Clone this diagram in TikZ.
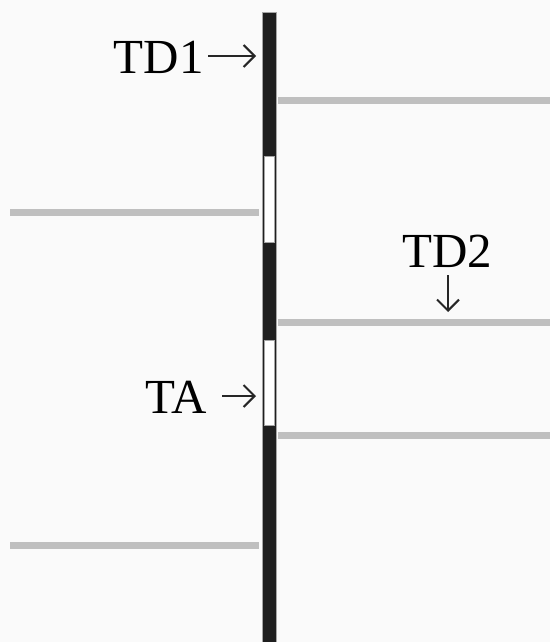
\documentclass[tikz,border=0pt]{standalone}
\usepackage{fontspec}
\setmainfont{Liberation Serif}
\usetikzlibrary{arrows.meta}

\begin{document}
\begin{tikzpicture}[x=1pt, y=-1pt,
	lbl/.style={inner sep=0pt, font=\fontsize{49}{52}\selectfont},
	pointer/.style={-{Straight Barb[length=11pt, width=22pt, line width=2pt]}, line width=2pt, black!85}]
\useasboundingbox (0,0) rectangle (550,642);
\fill[white!98!black] (0,0) rectangle (550,642);
% the rod
\filldraw[fill=black!88, draw=gray!70] (262,12) rectangle (276,642);
\foreach \a/\b in {156/242,340/425}
	\filldraw[fill=white, draw=gray!70] (264,\a) rectangle (274,\b);
% gray layers
\foreach \y in {100,322,435}
	\draw[gray!50, line width=7pt] (278,\y) -- (550,\y);
\foreach \y in {212,545}
	\draw[gray!50, line width=7pt] (10,\y) -- (259,\y);
% labels
\node[lbl, anchor=base east] (td1) at (204,74) {TD1};
\node[lbl, anchor=base east] (ta) at (207,413) {TA};
\node[lbl, anchor=base west] (td2) at (402,267) {TD2};
\coordinate (td1tip) at (256,56);
\coordinate (tatip) at (256,396);
\coordinate (td2tip) at (448,312);
\draw[pointer] ([xshift=4pt]td1tip -| td1.east) -- (td1tip);
\draw[pointer] ([xshift=15pt]tatip -| ta.east) -- (tatip);
\draw[pointer] ([yshift=-8pt]td2.south -| td2tip) -- (td2tip);
\end{tikzpicture}
\end{document}
